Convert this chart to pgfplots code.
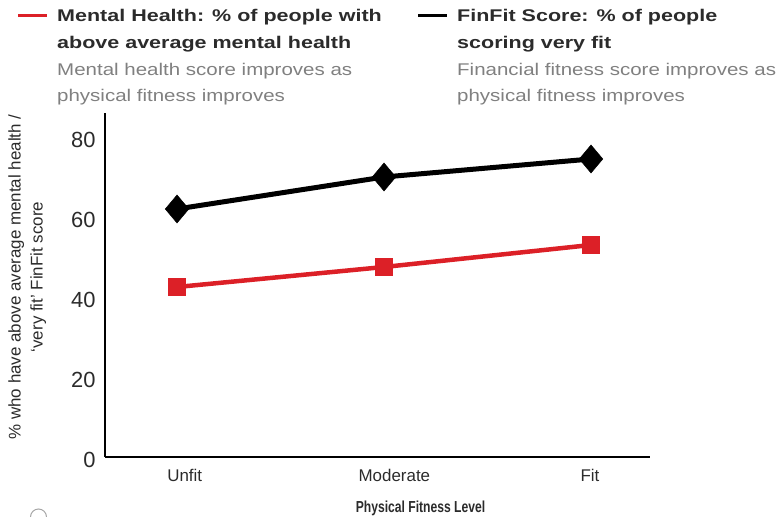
\documentclass[border=0pt]{standalone}
\usepackage{fontspec}
\setmainfont{Liberation Sans}
\newfontfamily\widefont[FakeStretch=1.21]{Liberation Sans}
\newfontfamily\widebold[FakeStretch=1.27]{Liberation Sans Bold}
\newfontfamily\narrowfont[FakeStretch=0.76]{Liberation Sans}
\usepackage{pgfplots}
\pgfplotsset{compat=1.18}

\definecolor{mhred}{HTML}{DC2027}
\definecolor{ink}{HTML}{2B2B2B}
\definecolor{subgray}{HTML}{808080}

% share of people by physical fitness level (0 = Unfit, 1 = Moderate, 2 = Fit)
\pgfplotstableread{
x mental finfit
0 42.5 62
1 47.5 70
2 53   74.5
}\fitdata

\begin{document}
\begin{tikzpicture}[x=1bp,y=1bp]
\path[use as bounding box] (0,0) rectangle (781,517);

\begin{axis}[
  at={(105bp,60bp)}, anchor=south west,
  scale only axis, width=545bp, height=344bp,
  xmin=-0.348, xmax=2.285, ymin=0, ymax=86,
  axis x line*=bottom, axis y line*=left,
  axis line style={line width=2bp, black},
  major tick length=0pt,
  clip=false,
  ytick={0,20,40,60,80},
  /pgf/number format/assume math mode=true,
  yticklabel style={font=\fontsize{22}{22}\selectfont, text=ink, xshift=-6bp, yshift=-3bp},
  xtick={0.037,1.05,1.995},
  xticklabels={Unfit,Moderate,Fit},
  xticklabel style={font=\fontsize{17}{17}\selectfont, text=ink, anchor=base, yshift=-25bp},
]
\addplot[mhred, line width=4.5bp, mark=square*,
  mark size=8.6bp, mark options={line width=0.5bp, fill=mhred}]
  table[x=x, y=mental] {\fitdata};
\addplot[black, line width=5bp, mark=diamond*,
  mark size=14bp, mark options={line width=0.5bp, fill=black, xscale=1.12}]
  table[x=x, y=finfit] {\fitdata};
\end{axis}

% legend: Mental Health
\draw[mhred, line width=3bp] (18,501.7) -- (47,501.7);
\begin{scope}[every node/.style={anchor=base west, inner sep=0pt}]
\node[font=\widebold\fontsize{17}{17}\selectfont, text=ink] at (57,495) {Mental Health: \% of people with};
\node[font=\widebold\fontsize{17}{17}\selectfont, text=ink] at (57,468) {above average mental health};
\node[font=\widefont\fontsize{17}{17}\selectfont, text=subgray] at (57,441) {Mental health score improves as};
\node[font=\widefont\fontsize{17}{17}\selectfont, text=subgray] at (57,415) {physical fitness improves};
\end{scope}

% legend: FinFit Score
\draw[black, line width=3bp] (418,501.7) -- (447,501.7);
\begin{scope}[every node/.style={anchor=base west, inner sep=0pt}]
\node[font=\widebold\fontsize{17}{17}\selectfont, text=ink] at (457,495) {FinFit Score: \% of people};
\node[font=\widebold\fontsize{17}{17}\selectfont, text=ink] at (457,468) {scoring very fit};
\node[font=\widefont\fontsize{17}{17}\selectfont, text=subgray] at (457,441) {Financial fitness score improves as};
\node[font=\widefont\fontsize{17}{17}\selectfont, text=subgray] at (457,415) {physical fitness improves};
\end{scope}

% y axis title, two lines
\node[rotate=90, anchor=base, inner sep=0pt, font=\fontsize{17}{17}\selectfont, text=ink] at (20.7,240) {\% who have above average mental health /};
\node[rotate=90, anchor=base, inner sep=0pt, font=\fontsize{17}{17}\selectfont, text=ink] at (42.7,240) {‘very fit’ FinFit score};

% x axis title
\node[anchor=base, inner sep=0pt, font=\narrowfont\bfseries\fontsize{16}{16}\selectfont, text=ink] at (420.5,4.7) {Physical Fitness Level};

% small round glyph at the lower left edge
\draw[gray!70, line width=1bp] (30.5,0) arc[start angle=180, end angle=0, radius=8];
\end{tikzpicture}
\end{document}
